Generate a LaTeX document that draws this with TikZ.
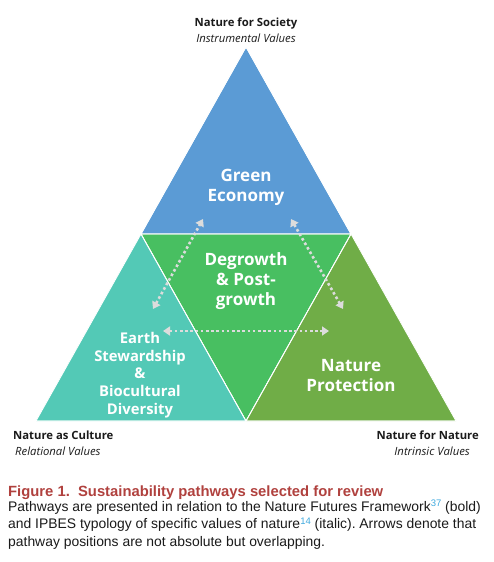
\documentclass[tikz,border=0pt]{standalone}
\usepackage{fontspec}
\setmainfont{Open Sans}
\newfontfamily\capfont{Liberation Sans}
\usetikzlibrary{arrows.meta}
\definecolor{cblue}{HTML}{5B9BD5}
\definecolor{cgreen}{HTML}{48BF61}
\definecolor{cteal}{HTML}{53C9B6}
\definecolor{colive}{HTML}{70AD47}
\definecolor{carrow}{HTML}{DCDCDC}
\definecolor{cred}{HTML}{B0413E}
\definecolor{ctext}{HTML}{1A1A1A}
\definecolor{cref}{HTML}{3FA9DE}
\newcommand{\refsup}[1]{\raisebox{4.5pt}{\fontsize{9.5}{9.5}\selectfont\color{cref}#1}}
\tikzset{
  region/.style={draw=white, line width=0.8pt, line join=miter},
  inner/.style={text=white, font=\bfseries\fontsize{17}{20}\selectfont, align=center, inner sep=0pt},
  pole/.style={text=ctext, font=\bfseries\fontsize{11.3}{16}\selectfont, inner sep=0pt, anchor=base},
  poleit/.style={text=ctext, font=\itshape\fontsize{11.3}{16}\selectfont, inner sep=0pt, anchor=base},
  overlap/.style={draw=carrow, line width=2.6pt, dash pattern=on 2.6pt off 2.6pt,
    {Triangle[width=9pt,length=7pt]}-{Triangle[width=9pt,length=7pt]}},
}
\begin{document}
\frenchspacing
\begin{tikzpicture}[x=1pt,y=-1pt]
\useasboundingbox (0,0) rectangle (493,562);
\coordinate (A) at (246,47);
\coordinate (L) at (36,421);
\coordinate (R) at (456,421);
\coordinate (ML) at (141,234);
\coordinate (MR) at (351,234);
\coordinate (BM) at (246,421);
\fill[cblue, region] (A) -- (ML) -- (MR) -- cycle;
\fill[cgreen, region] (ML) -- (MR) -- (BM) -- cycle;
\fill[cteal, region] (ML) -- (L) -- (BM) -- cycle;
\fill[colive, region] (MR) -- (BM) -- (R) -- cycle;
\draw[white, line width=0.8pt] (A) -- (ML) -- (MR) -- cycle (ML) -- (BM) -- (MR) (L) -- (R);

\node[inner] (ge) at (246,187) {Green\\Economy};
\node[inner] (dg) at (246,281) {Degrowth\\\& Post-\\growth};
\node[inner, font=\bfseries\fontsize{14.8}{17.6}\selectfont] (es) at (140,375) {Earth\\Stewardship\\\&\\Biocultural\\Diversity};
\node[inner] (np) at (351,376) {Nature\\Protection};

\coordinate (a1) at (153,309);
\coordinate (a2) at (203,219);
\coordinate (b1) at (291,219);
\coordinate (b2) at (343,309);
\coordinate (c1) at (163,331);
\coordinate (c2) at (329,331);
\draw[overlap] (a1) -- (a2);
\draw[overlap] (b1) -- (b2);
\draw[overlap] (c1) -- (c2);

\node[pole] (ns) at (246,26) {Nature for Society};
\node[poleit] (iv) at (246,42) {Instrumental Values};
\node[pole, anchor=base west] (nc) at (13,439) {Nature as Culture};
\node[poleit, anchor=base west] (rv) at (15,455) {Relational Values};
\node[pole, anchor=base east] (nn) at (479,439) {Nature for Nature};
\node[poleit, anchor=base east] (inv) at (470,455) {Intrinsic Values};

\node[anchor=base west, inner sep=0pt, text=cred, font=\capfont\bfseries\fontsize{14.8}{17}\selectfont] (fig) at (8,496) {Figure 1.\ \ Sustainability pathways selected for review};
\node[anchor=north west, inner sep=0pt, align=left, text=ctext, font=\capfont\fontsize{13.9}{17.5}\selectfont] (body) at (8,500)
{Pathways are presented in relation to the Nature Futures Framework\refsup{37} (bold)\\
and IPBES typology of specific values of nature\refsup{14} (italic). Arrows denote that\\
pathway positions are not absolute but overlapping.};
\end{tikzpicture}
\end{document}
